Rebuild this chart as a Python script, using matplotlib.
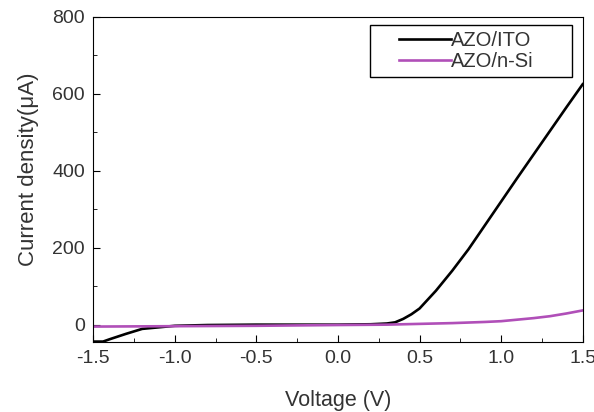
import numpy as np
import matplotlib
matplotlib.use('Agg')
import matplotlib.pyplot as plt
from matplotlib.patches import Rectangle
from matplotlib.ticker import MultipleLocator

# Data
voltage_ito = [-1.5, -1.44, -1.4, -1.3, -1.2, -1.1, -1.0, -0.8, -0.5, -0.2, 0.0, 0.2, 0.3,
               0.35, 0.4, 0.45, 0.5, 0.6, 0.7, 0.8, 0.9, 1.0, 1.1, 1.2, 1.3, 1.4, 1.5]
current_ito = [-44, -44, -38, -24, -11, -7, -3, -1, 0, 0, 0, 1, 3,
               6, 15, 27, 42, 88, 140, 196, 258, 320, 382, 443, 504, 565, 625]

voltage_si = [-1.5, -1.0, -0.5, 0.0, 0.3, 0.5, 0.7, 0.9, 1.0, 1.1, 1.2, 1.3, 1.4, 1.5]
current_si = [-5, -4, -3, -1, 0, 2, 4, 7, 9, 13, 17, 22, 29, 37]

plt.rcParams['font.family'] = ['Liberation Sans', 'DejaVu Sans']
plt.rcParams['axes.unicode_minus'] = False
text_color = '#333333'

fig = plt.figure(figsize=(5.94, 4.12), dpi=100)
ax = fig.add_axes([0.157, 0.170, 0.824, 0.789])

ax.plot(voltage_ito, current_ito, color='black', lw=1.9, label='AZO/ITO')
ax.plot(voltage_si, current_si, color='#b04fb8', lw=1.9, label='AZO/n-Si')

ax.set_xlim(-1.5, 1.5)
ax.set_ylim(-45, 800)
ax.xaxis.set_major_locator(MultipleLocator(0.5))
ax.xaxis.set_minor_locator(MultipleLocator(0.25))
ax.yaxis.set_major_locator(MultipleLocator(200))
ax.yaxis.set_minor_locator(MultipleLocator(100))
ax.tick_params(which='both', direction='in', top=False, right=False,
               labelsize=14, labelcolor=text_color, pad=6)
ax.tick_params(which='major', length=5)
ax.tick_params(which='minor', length=3)

ax.set_xlabel('Voltage (V)', fontsize=15.5, color=text_color, labelpad=16)
ax.set_ylabel('Current density(μA)', fontsize=16, color=text_color)
ax.yaxis.set_label_coords(-0.11, 0.53)

# legend with a wide, square frame like the original
ax.add_patch(Rectangle((0.565, 0.815), 0.413, 0.16, transform=ax.transAxes,
                       fill=False, edgecolor='black', lw=1.0, zorder=5))
leg = ax.legend(loc='center', fontsize=14.5, frameon=False,
                handlelength=2.6, handletextpad=0.0, borderpad=0.0,
                labelspacing=0.1, bbox_to_anchor=(0.762, 0.895))
for t in leg.get_texts():
    t.set_color(text_color)

fig.savefig('out.png', dpi=100)
